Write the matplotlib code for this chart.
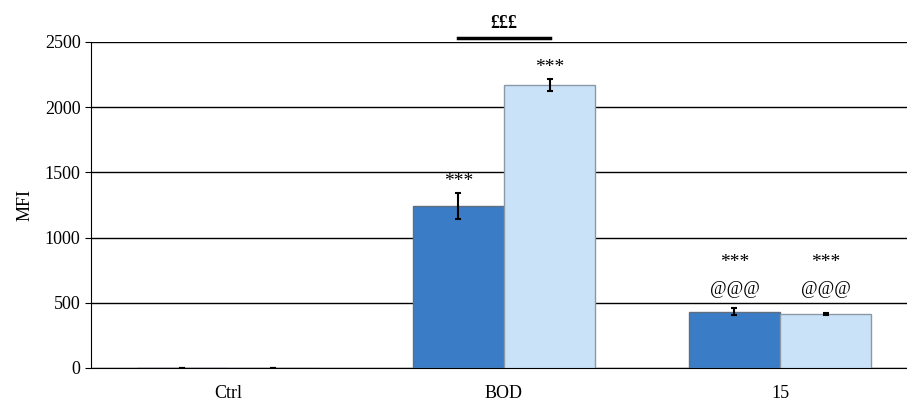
import numpy as np
import matplotlib
matplotlib.use('Agg')
from matplotlib import pyplot as plt

plt.rcParams['font.family'] = ['Liberation Serif', 'DejaVu Serif']

# data
groups = ['Ctrl', 'BOD', '15']
series_a = [2, 1245, 432]
series_b = [2, 2170, 414]
err_a = [0, 100, 25]
err_b = [0, 45, 8]
stars = ['', '***', '***']
ats = ['', '', '@@@']

col_a = '#3A7CC6'
col_b = '#C9E2F8'

fig = plt.figure(figsize=(9.07, 4.01), dpi=100)
ax = fig.add_axes([0.1003, 0.0823, 0.8997, 0.813])

x = np.arange(len(groups))
w = 0.33
ax.bar(x - w/2, series_a, w, color=col_a, edgecolor='#5f6f80', linewidth=1.0, zorder=3)
ax.bar(x + w/2, series_b, w, color=col_b, edgecolor='#8a98a8', linewidth=1.0, zorder=3)
ax.errorbar(x - w/2, series_a, yerr=err_a, fmt='none', ecolor='black', elinewidth=1.5, capsize=2.5, capthick=1.5, zorder=4)
ax.errorbar(x + w/2, series_b, yerr=err_b, fmt='none', ecolor='black', elinewidth=1.5, capsize=2.5, capthick=1.5, zorder=4)

for i in range(len(groups)):
    if not stars[i]:
        continue
    if ats[i]:
        # both bars of this group share the label heights
        base = max(series_a[i] + err_a[i], series_b[i] + err_b[i])
        for xx in (x[i] - w/2, x[i] + w/2):
            ax.text(xx, base + 80, ats[i], ha='center', va='bottom', fontsize=13)
            ax.text(xx, base + 285, stars[i], ha='center', va='bottom', fontsize=14)
    else:
        ax.text(x[i] - w/2, series_a[i] + err_a[i] + 20, stars[i], ha='center', va='bottom', fontsize=14)
        ax.text(x[i] + w/2, series_b[i] + err_b[i] + 25, stars[i], ha='center', va='bottom', fontsize=14)

# comparison bar between BOD series
ax.plot([1 - w/2, 1 + w/2], [2530, 2530], color='black', linewidth=2.5, clip_on=False)
ax.text(1, 2580, '£££', ha='center', va='bottom', fontsize=13, fontweight='bold')

ax.set_ylim(0, 2500)
ax.set_xlim(-0.496, 2.46)
ax.set_yticks(np.arange(0, 2501, 500))
ax.set_xticks(x)
ax.set_xticklabels(groups, fontsize=13)
ax.tick_params(axis='y', labelsize=13, length=4, direction='out')
ax.tick_params(axis='x', length=0, pad=12)
ax.yaxis.grid(True, color='black', linewidth=1)
ax.set_axisbelow(True)
for s in ['top', 'right']:
    ax.spines[s].set_visible(False)
ax.set_ylabel('MFI', fontsize=13, labelpad=8)

plt.savefig('out.png', dpi=100)
